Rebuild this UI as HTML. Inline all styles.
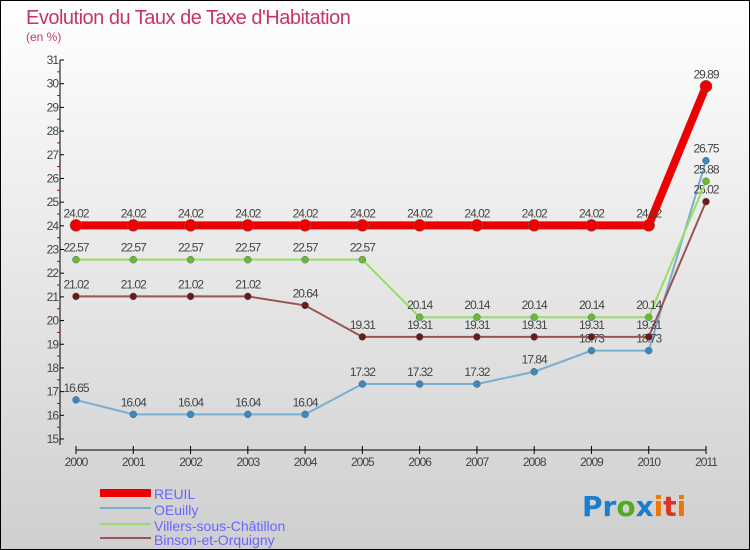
<!DOCTYPE html>
<html><head><meta charset="utf-8"><style>
html,body{margin:0;padding:0}
body{width:750px;height:550px;overflow:hidden;font-family:"Liberation Sans",sans-serif}
svg{display:block}
</style></head><body>
<svg id="chart" width="750" height="550" xmlns="http://www.w3.org/2000/svg">
<defs><linearGradient id="bg" x1="0" y1="0" x2="0" y2="1"><stop offset="0" stop-color="#ffffff"/><stop offset="1" stop-color="#cfcfcf"/></linearGradient></defs>
<rect x="0.5" y="0.5" width="749" height="549" fill="url(#bg)" stroke="#000"/>
<text x="26" y="24" font-size="20" fill="#c8336a" letter-spacing="-0.5">Evolution du Taux de Taxe d'Habitation</text>
<text x="26" y="41" font-size="12" fill="#c8336a">(en %)</text>
<g id="axes"></g><g id="series"></g>
<g font-size="14" fill="#6666ff">
<rect x="100" y="489" width="51" height="8" fill="#ee0000"/>
<text x="154" y="499">REUIL</text>
<rect x="100" y="507" width="51" height="2" fill="#7aaed0"/>
<text x="154" y="515">OEuilly</text>
<rect x="100" y="523" width="51" height="2" fill="#99dd66"/>
<text x="154" y="531">Villers-sous-Châtillon</text>
<rect x="100" y="537" width="51" height="2" fill="#995555"/>
<text x="154" y="545">Binson-et-Orquigny</text>
</g>
<text x="582" y="516" font-size="28" font-family="'DejaVu Sans',sans-serif" font-weight="bold"><tspan fill="#1a7ecf">Pr</tspan><tspan fill="#55aa22">o</tspan><tspan fill="#1a7ecf">x</tspan><tspan fill="#ee7700">i</tspan><tspan fill="#dd3322">t</tspan><tspan fill="#ee7700">i</tspan></text>
</svg>
<script>
const years=[2000,2001,2002,2003,2004,2005,2006,2007,2008,2009,2010,2011];
const reuil=[24.02,24.02,24.02,24.02,24.02,24.02,24.02,24.02,24.02,24.02,24.02,29.89];
const oeuilly=[16.65,16.04,16.04,16.04,16.04,17.32,17.32,17.32,17.84,18.73,18.73,26.75];
const villers=[22.57,22.57,22.57,22.57,22.57,22.57,20.14,20.14,20.14,20.14,20.14,25.88];
const binson=[21.02,21.02,21.02,21.02,20.64,19.31,19.31,19.31,19.31,19.31,19.31,25.02];
const yTicks=[15,16,17,18,19,20,21,22,23,24,25,26,27,28,29,30,31];
const NS="http://www.w3.org/2000/svg";
const x0=76,x1=706,yMin=15,yMax=31,yTop=60,yBot=439,axX=60,axY=450;
const X=i=>x0+i*(x1-x0)/(years.length-1);
const Y=v=>yBot-(v-yMin)*(yBot-yTop)/(yMax-yMin);
function mk(t,a,p){const e=document.createElementNS(NS,t);for(const k in a)e.setAttribute(k,a[k]);p.appendChild(e);return e;}
const ax=document.getElementById('axes');
let e=mk('line',{x1:axX,y1:yTop,x2:axX,y2:yBot+6,stroke:'#000'},ax);


e=mk('line',{x1:x0,y1:axY,x2:x1,y2:axY,stroke:'#000'},ax);


yTicks.forEach(v=>{
 mk('line',{x1:axX,y1:Y(v),x2:axX+4,y2:Y(v),stroke:'#000'},ax);
 if(v<yMax) mk('line',{x1:axX-3,y1:Y(v+0.5),x2:axX,y2:Y(v+0.5),stroke:'#cc0000'},ax);
 const t=mk('text',{x:axX-2,y:Y(v)+4,'font-size':12,fill:'#444','text-anchor':'end','letter-spacing':'-1'},ax);
 
 
 t.textContent=v;
});
years.forEach((yr,i)=>{
 mk('line',{x1:X(i),y1:axY-4,x2:X(i),y2:axY+4,stroke:'#000'},ax);
 const t=mk('text',{x:X(i),y:axY+16,'font-size':12,fill:'#444','text-anchor':'middle','letter-spacing':'-1'},ax);
 
 
 t.textContent=yr;
});
const sg=document.getElementById('series');
function draw(name,vals,color,dot,w,r){
 const g=mk('g',{},sg);
 
 
 mk('polyline',{points:vals.map((v,i)=>X(i)+','+Y(v)).join(' '),fill:'none',stroke:color,'stroke-width':w},g);
 vals.forEach((v,i)=>{
  const c=mk('circle',{cx:X(i),cy:Y(v),r:r,fill:dot,stroke:'#666','stroke-width':0.5},g);
  
  
  const t=mk('text',{x:X(i),y:Y(v)-8,'font-size':12,fill:'#444','text-anchor':'middle','letter-spacing':'-1'},g);
  
  
  t.textContent=v;
 });
}
draw('oeuilly',oeuilly,'#7aaed0','#3a88c0',2,3.5);
draw('binson',binson,'#995555','#661a1a',2,3.5);
draw('villers',villers,'#99dd66','#66bb33',2,3.5);
draw('reuil',reuil,'#ee0000','#ee0000',8,6);
</script>
</body></html>
